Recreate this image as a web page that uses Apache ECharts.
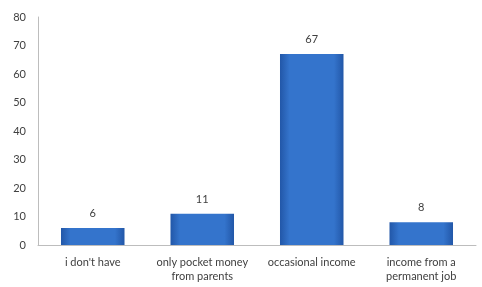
<!DOCTYPE html>
<html>
<head>
<meta charset="utf-8">
<script src="https://cdn.jsdelivr.net/npm/echarts@6/dist/echarts.min.js"></script>
<style>
  html, body { margin: 0; padding: 0; background: #fff; }
  #chart { width: 482px; height: 287px; }
</style>
</head>
<body>
<div id="chart"></div>
<script>
const categories = ['i don\'t have', 'only pocket money\nfrom parents', 'occasional income', 'income from a\npermanent job']
const values = [6, 11, 67, 8]

const chart = echarts.init(document.getElementById('chart'))
chart.setOption({
  animation: false,
  textStyle: { fontFamily: 'Lato' },
  grid: { left: 38, right: 6, top: 17, bottom: 42 },
  xAxis: {
    type: 'category',
    data: categories,
    axisLine: { lineStyle: { color: '#bdbdbd' } },
    axisTick: { show: false },
    axisLabel: { color: '#404040', fontSize: 11, lineHeight: 14, margin: 10, interval: 0 }
  },
  yAxis: {
    type: 'value',
    min: 0,
    max: 80,
    interval: 10,
    splitLine: { show: false },
    axisLine: { show: true, lineStyle: { color: '#bdbdbd' } },
    axisTick: { show: false },
    axisLabel: { color: '#404040', fontSize: 11, margin: 12 }
  },
  series: [{
    type: 'bar',
    data: values,
    barCategoryGap: '42%',
    itemStyle: {
      color: new echarts.graphic.LinearGradient(0, 0, 1, 0, [
        { offset: 0, color: '#2257a8' },
        { offset: 0.15, color: '#3474cc' },
        { offset: 0.85, color: '#3474cc' },
        { offset: 1, color: '#2257a8' }
      ])
    },
    label: { show: true, position: 'top', distance: 9, color: '#404040', fontSize: 11 }
  }]
})
</script>
</body>
</html>
